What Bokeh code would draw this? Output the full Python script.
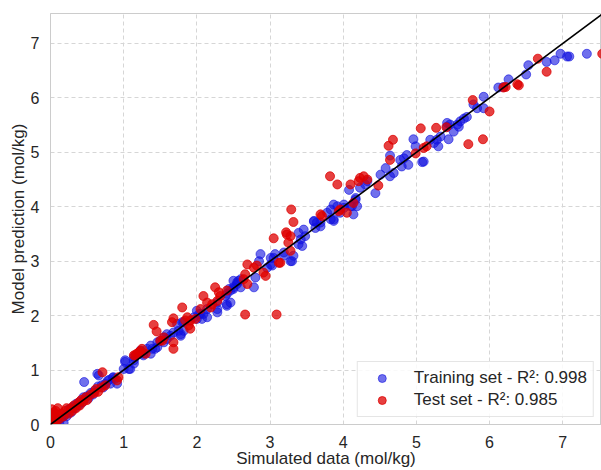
from bokeh.plotting import figure
from bokeh.models import Range1d, Slope, Legend, LegendItem, FixedTicker
from bokeh.embed import file_html
from bokeh.resources import INLINE

ticks = [0, 1, 2, 3, 4, 5, 6, 7]

train_x = [0.03, 0.06, 0.10, 0.12, 0.15, 0.18, 0.20, 0.22, 0.25, 0.28, 0.30, 0.33, 0.35, 0.38, 0.40, 0.43,
           0.46, 0.45, 0.50, 0.52, 0.55, 0.58, 0.60, 0.64, 0.65, 0.66, 0.70, 0.72, 0.75, 0.78, 0.80, 0.82,
           0.85, 0.86, 0.88, 0.91,
           1.00, 1.02, 1.02, 1.07, 1.09, 1.14, 1.14, 1.14, 1.23, 1.27, 1.27, 1.32, 1.37, 1.37, 1.39, 1.43,
           1.46, 1.46, 1.50, 1.55, 1.55, 1.59, 1.59, 1.64, 1.68, 1.73, 1.75, 1.78, 1.78, 1.80, 1.82, 1.82,
           1.96, 2.00, 2.00, 2.03, 2.05, 2.07, 2.09, 2.14, 2.14, 2.28, 2.28, 2.28, 2.39, 2.41, 2.41, 2.41,
           2.44, 2.46, 2.46, 2.50, 2.50, 2.50, 2.55, 2.55, 2.57, 2.60, 2.60, 2.78, 2.80, 2.85, 2.87, 2.96,
           3.01, 3.01, 3.03, 3.05, 3.07, 3.19, 3.19, 3.28, 3.30, 3.32, 3.39, 3.39, 3.42, 3.44, 3.46, 3.48,
           3.60, 3.60, 3.62, 3.64, 3.69, 3.69, 3.78, 3.83, 3.83, 3.87, 3.87, 3.87, 3.92, 3.96, 4.01, 4.01,
           4.08, 4.10, 4.12, 4.14, 4.17, 4.17, 4.19, 4.23, 4.30, 4.33, 4.44, 4.51, 4.58, 4.64, 4.64, 4.69,
           4.78, 4.80, 4.83, 4.87, 4.89, 4.96, 4.99, 5.08, 5.10, 5.19, 5.24, 5.28, 5.30, 5.33, 5.42, 5.42,
           5.44, 5.46, 5.51, 5.56, 5.58, 5.60, 5.65, 5.69, 5.78, 5.83, 5.92, 5.92, 6.12, 6.19, 6.26, 6.50,
           6.53, 6.78, 6.89, 6.97, 7.06, 7.09, 7.33]
train_y = [0.02, 0.05, 0.08, 0.02, 0.12, 0.03, 0.18, 0.15, 0.28, 0.22, 0.32, 0.30, 0.38, 0.35, 0.42, 0.40,
           0.78, 0.50, 0.52, 0.48, 0.58, 0.55, 0.62, 0.93, 0.70, 0.90, 0.72, 0.68, 0.75, 0.80, 0.82, 0.75,
           0.86, 0.87, 0.84, 0.75,
           1.02, 1.15, 1.18, 1.02, 1.02, 1.12, 1.18, 1.24, 1.36, 1.30, 1.27, 1.39, 1.45, 1.30, 1.39, 1.39,
           1.42, 1.51, 1.54, 1.51, 1.60, 1.57, 1.66, 1.63, 1.69, 1.85, 1.72, 1.63, 1.66, 1.88, 1.72, 1.88,
           1.97, 1.94, 2.09, 2.03, 2.03, 1.94, 2.03, 2.12, 1.97, 2.12, 2.24, 2.06, 2.36, 2.18, 2.21, 2.40,
           2.49, 2.24, 2.46, 2.49, 2.52, 2.64, 2.58, 2.61, 2.64, 2.67, 2.52, 2.52, 2.70, 3.00, 3.13, 2.88,
           2.94, 3.06, 2.92, 3.06, 3.13, 3.16, 3.10, 3.00, 3.00, 3.10, 3.31, 3.52, 3.40, 3.28, 3.58, 3.46,
           3.74, 3.73, 3.61, 3.71, 3.64, 3.71, 3.89, 3.77, 3.95, 3.77, 4.04, 3.74, 4.01, 3.89, 3.98, 4.04,
           4.31, 4.01, 4.01, 3.86, 4.13, 4.16, 4.01, 4.35, 4.41, 4.47, 4.25, 4.59, 4.71, 4.94, 4.56, 4.62,
           4.86, 4.74, 4.89, 4.95, 4.77, 5.24, 5.11, 4.82, 4.83, 5.23, 5.17, 5.23, 5.11, 5.29, 5.54, 5.47,
           5.24, 5.51, 5.38, 5.51, 5.47, 5.57, 5.62, 5.65, 5.88, 5.81, 5.81, 6.02, 6.19, 6.20, 6.34, 6.43,
           6.60, 6.66, 6.69, 6.81, 6.76, 6.76, 6.81]

test_x = [0.00, 0.01, 0.02, 0.02, 0.03, 0.04, 0.05, 0.05, 0.07, 0.08, 0.10, 0.10, 0.12, 0.15, 0.18, 0.20,
          0.22, 0.25, 0.28, 0.30, 0.32, 0.35, 0.38, 0.40, 0.42, 0.45, 0.48, 0.50, 0.55, 0.60, 0.62, 0.65,
          0.71, 0.70, 0.75, 0.91, 0.93,
          1.14, 1.16, 1.18, 1.21, 1.23, 1.25, 1.30, 1.41, 1.45, 1.50, 1.53, 1.55, 1.66, 1.68, 1.68, 1.68,
          1.80, 1.84, 1.87, 1.89, 1.91, 1.91, 1.98, 2.05, 2.09, 2.14, 2.19, 2.21, 2.25, 2.28, 2.30, 2.32,
          2.41, 2.64, 2.66, 2.66, 2.69, 2.69, 2.78, 2.82, 2.91, 2.94, 3.05, 3.09, 3.12, 3.14, 3.22, 3.23,
          3.25, 3.28, 3.28, 3.29, 3.32, 3.69, 3.71, 3.82, 3.92, 3.94, 3.96, 4.05, 4.10, 4.14, 4.21, 4.23,
          4.28, 4.33, 4.48, 4.62, 4.64, 4.68, 4.99, 5.06, 5.10, 5.14, 5.27, 5.41, 5.71, 5.77, 5.91, 6.00,
          6.19, 6.22, 6.38, 6.40, 6.66, 6.78, 7.54]
test_y = [0.12, 0.20, 0.05, 0.28, 0.15, 0.10, 0.22, 0.02, 0.25, 0.08, 0.18, 0.30, 0.10, 0.20, 0.15, 0.25,
          0.30, 0.20, 0.30, 0.25, 0.35, 0.30, 0.40, 0.35, 0.45, 0.42, 0.50, 0.45, 0.55, 0.58, 0.65, 0.60,
          0.96, 0.68, 0.72, 0.81, 0.87,
          1.27, 1.27, 1.30, 1.33, 1.35, 1.39, 1.30, 1.83, 1.71, 1.54, 1.54, 1.60, 1.88, 1.95, 1.51, 1.39,
          2.15, 1.91, 1.97, 1.82, 1.91, 1.76, 1.94, 2.12, 2.36, 2.24, 2.15, 2.21, 2.52, 2.27, 2.43, 2.36,
          2.46, 2.67, 2.76, 2.02, 2.94, 2.58, 2.88, 2.92, 2.79, 2.73, 3.42, 2.02, 2.97, 2.97, 3.53, 3.49,
          3.34, 3.46, 3.19, 3.95, 3.72, 3.86, 3.83, 4.56, 4.41, 3.92, 3.95, 3.89, 4.41, 4.07, 4.47, 4.53,
          4.56, 4.50, 4.39, 5.12, 4.86, 5.23, 4.98, 5.44, 5.08, 5.11, 5.45, 5.46, 5.15, 5.96, 5.24, 5.75,
          6.19, 6.20, 6.25, 6.23, 6.72, 6.48, 6.81]

train_label = "Training set - R²: 0.998"
test_label = "Test set - R²: 0.985"

FONT = "Liberation Sans"

p = figure(width=601, height=470, output_backend="svg", toolbar_location=None,
           x_range=Range1d(0, 7.53), y_range=Range1d(0, 7.55),
           min_border_left=50, min_border_right=0, min_border_top=13, min_border_bottom=44)
p.background_fill_color = "white"
p.border_fill_color = "white"
p.outline_line_color = "#cccccc"
p.outline_line_width = 1

for ax in (p.xaxis, p.yaxis):
    ax.ticker = FixedTicker(ticks=ticks)
    ax.major_tick_line_color = None
    ax.minor_tick_line_color = None
    ax.axis_line_color = "#cccccc"
    ax.major_label_text_font = FONT
    ax.major_label_text_font_size = "16px"
    ax.major_label_text_color = "#262626"
    ax.axis_label_text_font = FONT
    ax.axis_label_text_font_size = "17px"
    ax.axis_label_text_font_style = "normal"
    ax.axis_label_text_color = "#262626"

p.xaxis.major_label_standoff = 5
p.xaxis.axis_label_standoff = -2
p.yaxis.major_label_standoff = 5
p.yaxis.axis_label_standoff = 0

p.xaxis.axis_label = "Simulated data (mol/kg)"
p.yaxis.axis_label = "Model prediction (mol/kg)"

for g in (p.xgrid, p.ygrid):
    g.ticker = FixedTicker(ticks=ticks)
    g.grid_line_color = "#d6d6d6"
    g.grid_line_dash = "4 3"
    g.grid_line_width = 1

r_train = p.scatter(train_x, train_y, size=9, marker="circle",
                    fill_color="#1010e0", fill_alpha=0.6, line_color="#1010e0", line_alpha=0.6)
r_test = p.scatter(test_x, test_y, size=9, marker="circle",
                   fill_color="#dd0000", fill_alpha=0.75, line_color="#dd0000", line_alpha=0.75)

p.add_layout(Slope(gradient=1, y_intercept=0, line_color="black", line_width=1.6))

legend = Legend(items=[LegendItem(label=train_label, renderers=[r_train]),
                       LegendItem(label=test_label, renderers=[r_test])],
                location="bottom_right", margin=7, padding=6, spacing=2,
                glyph_width=36, glyph_height=20, label_height=20, label_standoff=14,
                label_text_font=FONT, label_text_font_size="17px", label_text_color="#262626",
                border_line_color="#cccccc", background_fill_color="white", background_fill_alpha=0.85)
p.add_layout(legend)

open("out.html", "w").write(file_html(p, INLINE))
